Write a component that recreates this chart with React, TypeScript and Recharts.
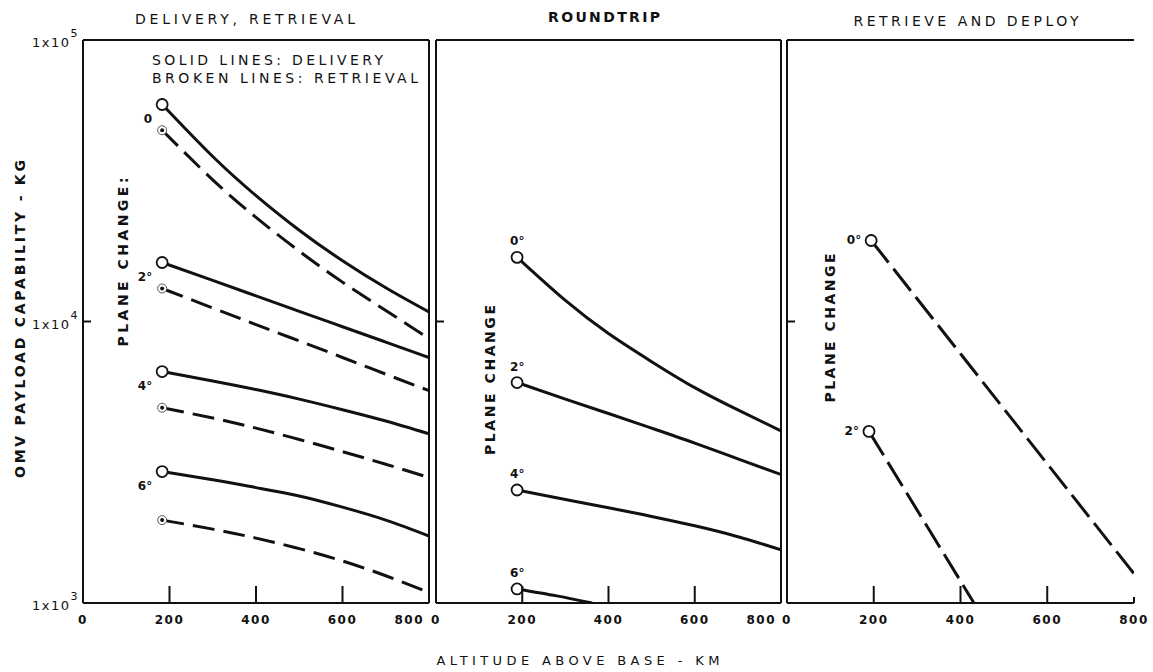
import React from 'react';
import { LineChart, Line, XAxis, YAxis, ReferenceLine } from 'recharts';

const W = 1153;
const H = 672;
const INK = '#111';
const FONT = '"DejaVu Sans", Verdana, sans-serif';

// altitude above base (km) vs OMV payload (kg)
const deliv0 = [
  { alt: 183, kg: 59000 }, { alt: 300, kg: 38550 }, { alt: 400, kg: 28000 }, { alt: 500, kg: 21100 },
  { alt: 600, kg: 16440 }, { alt: 700, kg: 13180 }, { alt: 800, kg: 10810 },
];
const retr0 = [
  { alt: 183, kg: 47800 }, { alt: 300, kg: 31870 }, { alt: 400, kg: 23440 }, { alt: 500, kg: 17780 },
  { alt: 600, kg: 13800 }, { alt: 700, kg: 10940 }, { alt: 800, kg: 8700 },
];
const deliv2 = [
  { alt: 183, kg: 16200 }, { alt: 300, kg: 14000 }, { alt: 400, kg: 12330 }, { alt: 500, kg: 10870 },
  { alt: 600, kg: 9580 }, { alt: 700, kg: 8450 }, { alt: 800, kg: 7450 },
];
const retr2 = [
  { alt: 183, kg: 13100 }, { alt: 300, kg: 11170 }, { alt: 400, kg: 9750 }, { alt: 500, kg: 8530 },
  { alt: 600, kg: 7450 }, { alt: 700, kg: 6500 }, { alt: 800, kg: 5680 },
];
const deliv4 = [
  { alt: 183, kg: 6640 }, { alt: 300, kg: 6150 }, { alt: 400, kg: 5730 }, { alt: 500, kg: 5300 },
  { alt: 600, kg: 4860 }, { alt: 700, kg: 4430 }, { alt: 800, kg: 3990 },
];
const retr4 = [
  { alt: 183, kg: 4940 }, { alt: 300, kg: 4540 }, { alt: 400, kg: 4180 }, { alt: 500, kg: 3810 },
  { alt: 600, kg: 3450 }, { alt: 700, kg: 3110 }, { alt: 800, kg: 2790 },
];
const deliv6 = [
  { alt: 183, kg: 2930 }, { alt: 300, kg: 2740 }, { alt: 400, kg: 2570 }, { alt: 500, kg: 2400 },
  { alt: 600, kg: 2190 }, { alt: 700, kg: 1970 }, { alt: 800, kg: 1730 },
];
const retr6 = [
  { alt: 183, kg: 1970 }, { alt: 300, kg: 1830 }, { alt: 400, kg: 1700 }, { alt: 500, kg: 1560 },
  { alt: 600, kg: 1410 }, { alt: 700, kg: 1250 }, { alt: 800, kg: 1090 },
];

const round0 = [
  { alt: 188, kg: 16900 }, { alt: 300, kg: 11880 }, { alt: 400, kg: 9060 }, { alt: 500, kg: 7200 },
  { alt: 600, kg: 5820 }, { alt: 700, kg: 4850 }, { alt: 800, kg: 4090 },
];
const round2 = [
  { alt: 188, kg: 6070 }, { alt: 300, kg: 5300 }, { alt: 400, kg: 4710 }, { alt: 500, kg: 4180 },
  { alt: 600, kg: 3700 }, { alt: 700, kg: 3250 }, { alt: 800, kg: 2860 },
];
const round4 = [
  { alt: 188, kg: 2520 }, { alt: 300, kg: 2330 }, { alt: 400, kg: 2180 }, { alt: 500, kg: 2030 },
  { alt: 600, kg: 1880 }, { alt: 700, kg: 1720 }, { alt: 800, kg: 1545 },
];
const round6 = [{ alt: 188, kg: 1122 }, { alt: 280, kg: 1060 }, { alt: 362, kg: 1000 }];

const redeploy0 = [{ alt: 194, kg: 19400 }, { alt: 800, kg: 1270 }];
const redeploy2 = [{ alt: 189, kg: 4070 }, { alt: 431, kg: 1000 }];

const ALT_TICKS = [0, 200, 400, 600, 800];
const KG_TICKS = [1000, 10000, 100000];
const KG_EXP: Record<number, string> = { 1000: '3', 10000: '4', 100000: '5' };

const TITLES = ['DELIVERY, RETRIEVAL', 'ROUNDTRIP', 'RETRIEVE AND DEPLOY'];

type Series = {
  data: { alt: number; kg: number }[];
  dashed: boolean;
  mark: 'open' | 'target';
  label?: string;
};

const panel1: Series[] = [
  { data: deliv0, dashed: false, mark: 'open', label: '0' },
  { data: retr0, dashed: true, mark: 'target' },
  { data: deliv2, dashed: false, mark: 'open', label: '2°' },
  { data: retr2, dashed: true, mark: 'target' },
  { data: deliv4, dashed: false, mark: 'open', label: '4°' },
  { data: retr4, dashed: true, mark: 'target' },
  { data: deliv6, dashed: false, mark: 'open', label: '6°' },
  { data: retr6, dashed: true, mark: 'target' },
];
const panel2: Series[] = [
  { data: round0, dashed: false, mark: 'open', label: '0°' },
  { data: round2, dashed: false, mark: 'open', label: '2°' },
  { data: round4, dashed: false, mark: 'open', label: '4°' },
  { data: round6, dashed: false, mark: 'open', label: '6°' },
];
const panel3: Series[] = [
  { data: redeploy0, dashed: true, mark: 'open', label: '0°' },
  { data: redeploy2, dashed: true, mark: 'open', label: '2°' },
];

const TOP = 40;
const BOTTOM = 603;
const XH = 30;

type Place = 'belowLeft' | 'above' | 'left';

const makeDot = (s: Series, place: Place) => (p: any) => {
  const { cx, cy, index } = p;
  if (index !== 0 || cx == null || cy == null) return <g key={`d${index}`} />;
  let lbl = null;
  if (s.label) {
    let tx = cx - 10, ty = cy + 18, anchor: 'end' | 'start' = 'end';
    if (place === 'above') { tx = cx - 7; ty = cy - 12; anchor = 'start'; }
    if (place === 'left') { tx = cx - 10; ty = cy + 4; anchor = 'end'; }
    lbl = (
      <text x={tx} y={ty} textAnchor={anchor} fontSize={12} fontWeight="bold" fill={INK} fontFamily={FONT}>
        {s.label}
      </text>
    );
  }
  return (
    <g key={`d${index}`}>
      {s.mark === 'open' ? (
        <circle cx={cx} cy={cy} r={5.5} fill="#fff" stroke={INK} strokeWidth={1.8} />
      ) : (
        <g>
          <circle cx={cx} cy={cy} r={4.5} fill="#fff" stroke="#555" strokeWidth={1} />
          <circle cx={cx} cy={cy} r={2} fill={INK} />
        </g>
      )}
      {lbl}
    </g>
  );
};

function Panel({
  plotLeft, plotRight, series, yLabels, rightBorder, place, dash, lastTickEnd,
}: {
  plotLeft: number; plotRight: number; series: Series[]; yLabels: boolean; rightBorder: boolean;
  place: Place; dash: string; lastTickEnd: boolean;
}) {
  const YW = yLabels ? 80 : 1;

  const xTick = (p: any) => {
    const { x, y, payload } = p;
    const v = payload.value;
    const len = v === 0 ? 0 : v === 800 ? 6 : 17;
    const end = lastTickEnd && v === 800;
    return (
      <g>
        {len > 0 && <line x1={x} y1={y} x2={x} y2={y - len} stroke={INK} strokeWidth={2} />}
        <text
          x={end ? x - 5 : x}
          y={y + 21}
          textAnchor={end ? 'end' : 'middle'}
          fontSize={12}
          fontWeight="bold"
          letterSpacing={1.5}
          fill={INK}
          fontFamily={FONT}
        >
          {v}
        </text>
      </g>
    );
  };

  const yTick = (p: any) => {
    const { x, y, payload } = p;
    const v = payload.value;
    return (
      <g>
        {v === 10000 && <line x1={x} y1={y} x2={x + 8} y2={y} stroke={INK} strokeWidth={2} />}
        {yLabels && (
          <text x={x - 4} y={y + 7} textAnchor="end" fontSize={13} fill={INK} fontFamily={FONT} letterSpacing={1.5}>
            1x10
            <tspan dy={-10} fontSize={11}>{KG_EXP[v]}</tspan>
          </text>
        )}
      </g>
    );
  };

  return (
    <div style={{ position: 'absolute', left: 0, top: 0 }}>
      <LineChart
        width={W}
        height={H}
        margin={{ top: TOP, right: W - plotRight, bottom: H - BOTTOM - XH, left: plotLeft - YW }}
      >
        <XAxis
          dataKey="alt"
          type="number"
          domain={[0, 800]}
          ticks={ALT_TICKS}
          allowDataOverflow
          height={XH}
          tickSize={0}
          tickMargin={0}
          tickLine={false}
          axisLine={{ stroke: INK, strokeWidth: 2 }}
          tick={xTick}
          interval={0}
        />
        <YAxis
          type="number"
          scale="log"
          domain={[1000, 100000]}
          ticks={KG_TICKS}
          allowDataOverflow
          width={YW}
          tickSize={0}
          tickMargin={0}
          tickLine={false}
          axisLine={{ stroke: INK, strokeWidth: 2 }}
          tick={yTick}
          interval={0}
        />
        <ReferenceLine y={100000} stroke={INK} strokeWidth={2} />
        {rightBorder && <ReferenceLine x={800} stroke={INK} strokeWidth={2} />}
        {series.map((s, i) => (
          <Line
            key={i}
            data={s.data}
            dataKey="kg"
            type={s.data.length > 2 ? 'natural' : 'linear'}
            stroke={INK}
            strokeWidth={3}
            strokeDasharray={s.dashed ? dash : undefined}
            dot={makeDot(s, place)}
            activeDot={false}
            isAnimationActive={false}
            legendType="none"
          />
        ))}
      </LineChart>
    </div>
  );
}

const txt = { fill: INK, fontFamily: FONT } as const;

export default function App() {
  return (
    <div style={{ position: 'fixed', left: 0, top: 0, width: W, height: H, background: '#fff' }}>
      <Panel plotLeft={83} plotRight={429} series={panel1} yLabels rightBorder place="belowLeft" dash="22 9" lastTickEnd />
      <Panel plotLeft={436} plotRight={781} series={panel2} yLabels={false} rightBorder place="above" dash="22 9" lastTickEnd />
      <Panel plotLeft={787} plotRight={1134} series={panel3} yLabels={false} rightBorder={false} place="left" dash="28 8" lastTickEnd={false} />
      <svg width={W} height={H} style={{ position: 'absolute', left: 0, top: 0, pointerEvents: 'none' }}>
        <text x={245} y={24} textAnchor="middle" fontSize={14} textLength={220} lengthAdjust="spacing" {...txt}>{TITLES[0]}</text>
        <text x={604} y={22} textAnchor="middle" fontSize={14} fontWeight="bold" textLength={112} lengthAdjust="spacing" {...txt}>{TITLES[1]}</text>
        <text x={966} y={26} textAnchor="middle" fontSize={14} textLength={225} lengthAdjust="spacing" {...txt}>{TITLES[2]}</text>

        <text x={152} y={65} fontSize={14} textLength={231} lengthAdjust="spacing" {...txt}>SOLID LINES: DELIVERY</text>
        <text x={152} y={83} fontSize={14} textLength={266} lengthAdjust="spacing" {...txt}>BROKEN LINES: RETRIEVAL</text>

        <text x={25} y={319} transform="rotate(-90 25 319)" textAnchor="middle" fontSize={14} fontWeight="bold" textLength={318} lengthAdjust="spacing" {...txt}>
          OMV PAYLOAD CAPABILITY - KG
        </text>
        <text x={578} y={665} textAnchor="middle" fontSize={13} textLength={283} lengthAdjust="spacing" {...txt}>
          ALTITUDE ABOVE BASE - KM
        </text>

        <text x={128} y={262} transform="rotate(-90 128 262)" textAnchor="middle" fontSize={14} fontWeight="bold" textLength={169} lengthAdjust="spacing" {...txt}>
          PLANE CHANGE:
        </text>
        <text x={495} y={380} transform="rotate(-90 495 380)" textAnchor="middle" fontSize={14} fontWeight="bold" textLength={150} lengthAdjust="spacing" {...txt}>
          PLANE CHANGE
        </text>
        <text x={835} y={328} transform="rotate(-90 835 328)" textAnchor="middle" fontSize={14} fontWeight="bold" textLength={149} lengthAdjust="spacing" {...txt}>
          PLANE CHANGE
        </text>
      </svg>
    </div>
  );
}
